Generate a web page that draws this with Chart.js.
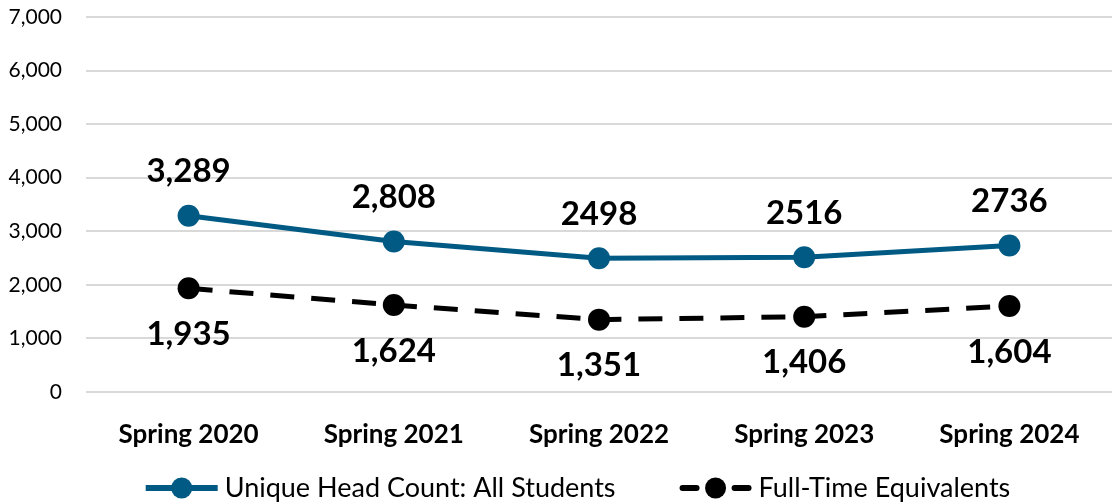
<!DOCTYPE html>
<html>
<head>
<meta charset="utf-8">
<script src="https://cdn.jsdelivr.net/npm/chart.js@4/dist/chart.umd.min.js"></script>
<style>
html,body{margin:0;padding:0;background:#fff;overflow:hidden;width:1113px;height:504px;}
#clip{width:1113px;height:504px;overflow:hidden;position:relative;}
canvas{display:block;}
</style>
</head>
<body>
<div id="clip"><canvas id="c" width="1123" height="504"></canvas></div>
<script>
const categories = ["Spring 2020","Spring 2021","Spring 2022","Spring 2023","Spring 2024"];
const headCount = [3289, 2808, 2498, 2516, 2736];
const headCountLabels = ["3,289","2,808","2498","2516","2736"];
const fte = [1935, 1624, 1351, 1406, 1604];
const fteLabels = ["1,935","1,624","1,351","1,406","1,604"];
const yTicks = [0,1000,2000,3000,4000,5000,6000,7000];
const seriesNames = ["Unique Head Count: All Students","Full-Time Equivalents"];

const BLUE = "#005A84";
const FONT = "Lato, 'Open Sans', sans-serif";

const labelPlugin = {
  id:'valueLabels',
  afterDatasetsDraw(chart){
    const ctx = chart.ctx;
    ctx.save();
    ctx.font = "bold 33px " + FONT;
    ctx.fillStyle = "#000";
    ctx.textAlign = 'center';
    ctx.textBaseline = 'middle';
    const m0 = chart.getDatasetMeta(0), m1 = chart.getDatasetMeta(1);
    m0.data.forEach((p,i)=>ctx.fillText(headCountLabels[i], p.x, p.y-44));
    m1.data.forEach((p,i)=>ctx.fillText(fteLabels[i], p.x, p.y+46));
    ctx.restore();
  }
};

const legendPlugin = {
  id:'lineLegend',
  afterDraw(chart){
    const ctx = chart.ctx;
    const ds = chart.data.datasets;
    const iconW = 72, gapIcon = 7, gapItems = 64, cy = 488;
    ctx.save();
    ctx.font = "27px " + FONT;
    ctx.textBaseline = 'middle';
    ctx.textAlign = 'left';
    const widths = ds.map(d=>ctx.measureText(d.label).width);
    const total = widths.reduce((a,w)=>a+iconW+gapIcon+w,0) + gapItems*(ds.length-1);
    let x = 578 - total/2;
    ds.forEach((d,i)=>{
      ctx.strokeStyle = d.borderColor; ctx.fillStyle = d.borderColor;
      ctx.lineWidth = 6; ctx.lineCap = i===1 ? 'round' : 'butt';
      ctx.beginPath();
      if(i===1){
        ctx.moveTo(x+3,cy); ctx.lineTo(x+17,cy);
        ctx.moveTo(x+55,cy); ctx.lineTo(x+69,cy);
      } else {
        ctx.moveTo(x,cy); ctx.lineTo(x+iconW,cy);
      }
      ctx.stroke();
      ctx.beginPath(); ctx.arc(x+iconW/2, cy, 10.5, 0, Math.PI*2); ctx.fill();
      x += iconW + gapIcon;
      ctx.fillStyle = "#000";
      ctx.fillText(d.label, x, cy);
      x += widths[i] + gapItems;
    });
    ctx.restore();
  }
};

new Chart(document.getElementById('c'), {
  type:'line',
  data:{
    labels: categories,
    datasets:[
      {label:seriesNames[0], data: headCount, borderColor: BLUE, backgroundColor: BLUE,
       borderWidth:5, pointRadius:11, pointHoverRadius:11, pointBackgroundColor: BLUE, pointBorderWidth:0, tension:0},
      {label:seriesNames[1], data: fte, borderColor:"#000", backgroundColor:"#000",
       borderWidth:5, borderDash:[24,17], pointRadius:11, pointHoverRadius:11, pointBackgroundColor:"#000", pointBorderWidth:0, tension:0}
    ]
  },
  options:{
    responsive:false, animation:false,
    layout:{padding:{top:0,left:0,right:0,bottom:34}},
    plugins:{
      tooltip:{enabled:false},
      legend:{display:false}
    },
    scales:{
      x:{
        offset:true,
        grid:{display:false},
        border:{display:false},
        ticks:{font:{family:FONT,size:26,weight:'bold'},color:"#000",padding:19},
        afterFit(scale){ scale.height = 78; scale.paddingLeft = 0; scale.paddingRight = 0; }
      },
      y:{
        min:0,max:7000,
        afterBuildTicks(scale){ scale.ticks = yTicks.map(v=>({value:v})); },
        grid:{color:"#d9d9d9",lineWidth:2,drawTicks:false},
        border:{display:false},
        ticks:{font:{family:FONT,size:21},color:"#000",padding:24,
          callback:v=>v.toLocaleString('en-US')},
        afterFit(scale){ scale.width = 86; scale.paddingTop = 17; scale.paddingBottom = 0; }
      }
    }
  },
  plugins:[labelPlugin, legendPlugin]
});
</script>
</body>
</html>
